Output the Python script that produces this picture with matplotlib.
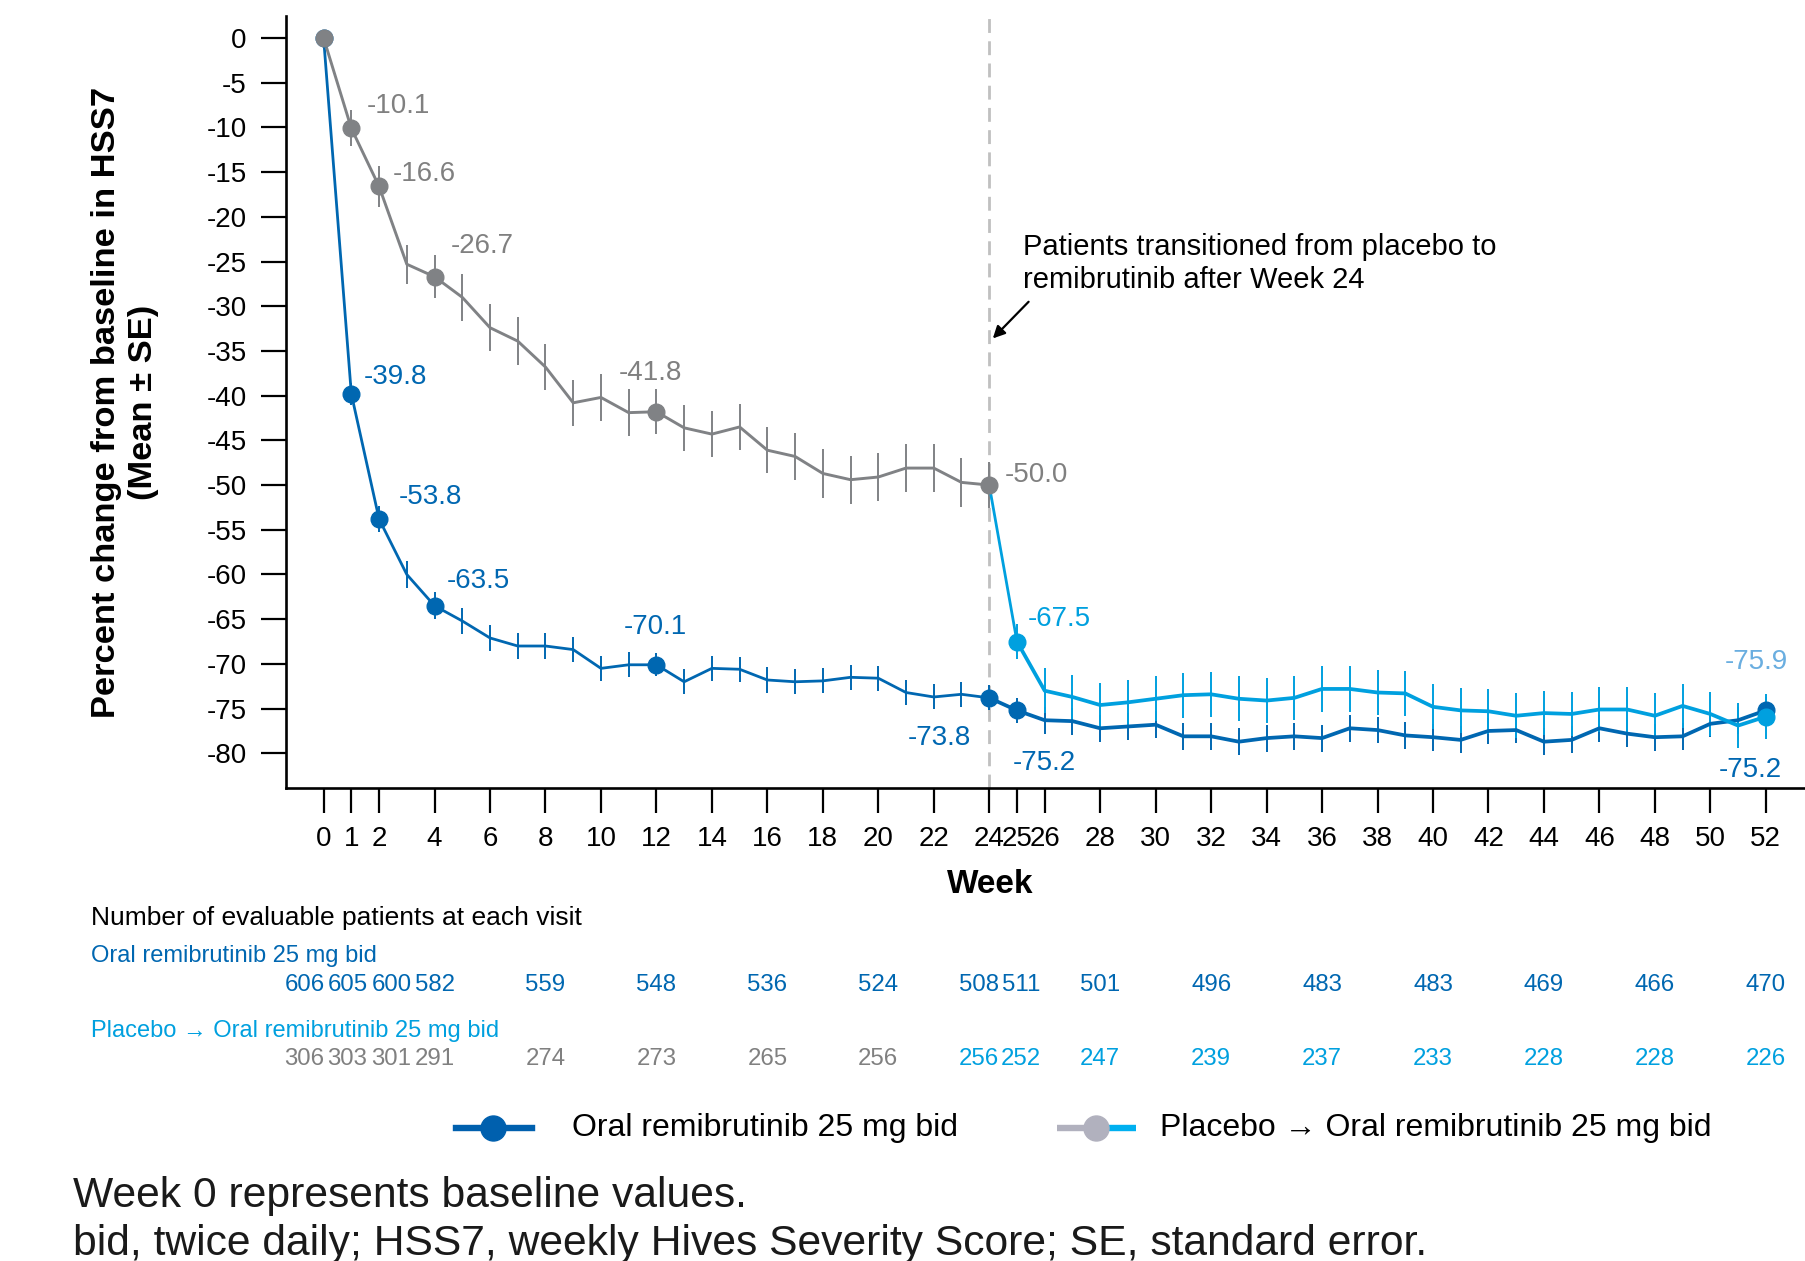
import matplotlib
matplotlib.use("Agg")
import matplotlib.pyplot as plt
import matplotlib.transforms as mtransforms
from matplotlib.lines import Line2D

plt.rcParams['font.family'] = ['Liberation Sans', 'DejaVu Sans']

# ---------------- data ----------------
weeks_main = list(range(0, 53))
remi_values = [0, -39.8, -53.8, -60.0, -63.5, -65.2, -67.1, -68.0, -68.0, -68.4,
               -70.5, -70.1, -70.1, -72.0, -70.5, -70.6, -71.8, -72.0, -71.9, -71.5,
               -71.6, -73.2, -73.7, -73.4, -73.8, -75.2, -76.3, -76.4, -77.2, -77.0,
               -76.8, -78.1, -78.1, -78.7, -78.3, -78.1, -78.3, -77.2, -77.4, -78.0,
               -78.2, -78.5, -77.5, -77.4, -78.7, -78.5, -77.2, -77.8, -78.2, -78.1,
               -76.7, -76.3, -75.2]
remi_se = [0, 1.2, 1.5, 1.5, 1.5, 1.5, 1.5, 1.4, 1.4, 1.4,
           1.4, 1.4, 1.3, 1.4, 1.4, 1.4, 1.4, 1.4, 1.4, 1.4,
           1.4, 1.4, 1.4, 1.4, 1.4, 1.4, 1.5, 1.5, 1.5, 1.5,
           1.5, 1.5, 1.5, 1.5, 1.5, 1.5, 1.5, 1.5, 1.5, 1.5,
           1.5, 1.5, 1.5, 1.5, 1.5, 1.5, 1.5, 1.5, 1.5, 1.5,
           1.5, 1.5, 1.5]

weeks_pbo = list(range(0, 25))
pbo_values = [0, -10.1, -16.6, -25.3, -26.7, -29.0, -32.4, -33.9, -36.8, -40.8,
              -40.2, -41.9, -41.8, -43.6, -44.3, -43.5, -46.1, -46.8, -48.7, -49.4,
              -49.1, -48.1, -48.1, -49.7, -50.0]
pbo_se = [0, 2.0, 2.3, 2.2, 2.4, 2.6, 2.6, 2.7, 2.6, 2.6,
          2.6, 2.6, 2.5, 2.6, 2.6, 2.6, 2.6, 2.6, 2.7, 2.7,
          2.7, 2.7, 2.7, 2.7, 2.6]

weeks_switch = list(range(24, 53))
switch_values = [-50.0, -67.5, -73.0, -73.7, -74.6, -74.3, -73.9, -73.5, -73.4, -73.9,
                 -74.1, -73.8, -72.8, -72.8, -73.2, -73.3, -74.8, -75.2, -75.3, -75.8,
                 -75.5, -75.6, -75.1, -75.1, -75.8, -74.7, -75.6, -76.9, -75.9]
switch_se = [0, 2.0, 2.5, 2.5, 2.5, 2.5, 2.5, 2.5, 2.5, 2.5,
             2.5, 2.5, 2.6, 2.6, 2.5, 2.5, 2.5, 2.5, 2.5, 2.5,
             2.5, 2.5, 2.5, 2.5, 2.5, 2.5, 2.5, 2.5, 2.5]

marker_weeks_remi = [0, 1, 2, 4, 12, 24, 25, 52]
marker_weeks_pbo = [0, 1, 2, 4, 12, 24]
marker_weeks_switch = [25, 52]

x_ticks = [0, 1, 2, 4, 6, 8, 10, 12, 14, 16, 18, 20, 22, 24, 25, 26, 28, 30, 32,
           34, 36, 38, 40, 42, 44, 46, 48, 50, 52]
y_ticks = [0, -5, -10, -15, -20, -25, -30, -35, -40, -45, -50, -55, -60, -65, -70, -75, -80]

risk_weeks = [0, 1, 2, 4, 8, 12, 16, 20, 24, 25, 28, 32, 36, 40, 44, 48, 52]
risk_remi = [606, 605, 600, 582, 559, 548, 536, 524, 508, 511, 501, 496, 483, 483, 469, 466, 470]
risk_pbo = [306, 303, 301, 291, 274, 273, 265, 256, 256, 252, 247, 239, 237, 233, 228, 228, 226]

# labelled points: (series, week, text)
point_labels = [
    ("pbo", 1, "-10.1"), ("pbo", 2, "-16.6"), ("pbo", 4, "-26.7"),
    ("pbo", 12, "-41.8"), ("pbo", 24, "-50.0"),
    ("remi", 1, "-39.8"), ("remi", 2, "-53.8"), ("remi", 4, "-63.5"),
    ("remi", 12, "-70.1"), ("remi", 24, "-73.8"), ("remi", 25, "-75.2"),
    ("remi", 52, "-75.2"),
    ("switch", 25, "-67.5"), ("switch", 52, "-75.9"),
]

# ---------------- style ----------------
C_REMI = "#0067B1"
C_PBO = "#808285"
C_SW = "#00A0DF"
C_SW_LBL = "#6AAEE0"
C_PBO_TXT = "#808080"

W, H = 1806, 1261
fig = plt.figure(figsize=(W / 100, H / 100), dpi=100)
ax_left, ax_right, ax_top, ax_bot = 285.6, 1806, 16, 788
ax = fig.add_axes([ax_left / W, 1 - ax_bot / H, (ax_right - ax_left) / W, (ax_bot - ax_top) / H])

ax.set_xlim(-1.37, 53.45)
ax.set_ylim(-83.88, 2.46)

# dashed vertical line
ax.axvline(24, color="#C0C0C0", lw=2.0, ls=(0, (5, 3)), zorder=1)

def idx(weeks, sel):
    return [weeks.index(w) for w in sel]

MS = 12

# remibrutinib: thinner to week 24 then thicker
n24 = weeks_main.index(24)
ax.errorbar(weeks_main[1:], remi_values[1:], yerr=remi_se[1:], fmt='none',
            ecolor=C_REMI, elinewidth=1.4, capsize=0, zorder=3)
ax.plot(weeks_main[:n24 + 1], remi_values[:n24 + 1], color=C_REMI, lw=2.0, zorder=4)
ax.plot(weeks_main[n24:], remi_values[n24:], color=C_REMI, lw=2.7, zorder=4)
mk = idx(weeks_main, marker_weeks_remi)
ax.plot([weeks_main[i] for i in mk], [remi_values[i] for i in mk], 'o',
        color=C_REMI, ms=MS, zorder=5)

# placebo
ax.errorbar(weeks_pbo[1:], pbo_values[1:], yerr=pbo_se[1:], fmt='none',
            ecolor=C_PBO, elinewidth=1.4, capsize=0, zorder=3)
ax.plot(weeks_pbo, pbo_values, color=C_PBO, lw=2.1, zorder=4)
mk = idx(weeks_pbo, marker_weeks_pbo)
ax.plot([weeks_pbo[i] for i in mk], [pbo_values[i] for i in mk], 'o',
        color=C_PBO, ms=MS, zorder=6)

# switch
ax.errorbar(weeks_switch[1:], switch_values[1:], yerr=switch_se[1:], fmt='none',
            ecolor=C_SW, elinewidth=1.4, capsize=0, zorder=3)
ax.plot(weeks_switch[:2], switch_values[:2], color=C_SW, lw=2.0, zorder=4)
ax.plot(weeks_switch[1:], switch_values[1:], color=C_SW, lw=2.7, zorder=4)
mk = idx(weeks_switch, marker_weeks_switch)
ax.plot([weeks_switch[i] for i in mk], [switch_values[i] for i in mk], 'o',
        color=C_SW, ms=MS, zorder=6)

# point labels (offsets in points, alignment)
label_style = {
    ("pbo", 1): ((11, 16), 'left', C_PBO_TXT),
    ("pbo", 2): ((10, 9), 'left', C_PBO_TXT),
    ("pbo", 4): ((12, 22), 'left', C_PBO_TXT),
    ("pbo", 12): ((-4, 28), 'center', C_PBO_TXT),
    ("pbo", 24): ((11, 7), 'left', C_PBO_TXT),
    ("remi", 1): ((9, 12), 'left', C_REMI),
    ("remi", 2): ((14, 16), 'left', C_REMI),
    ("remi", 4): ((9, 18), 'left', C_REMI),
    ("remi", 12): ((-1, 27), 'center', C_REMI),
    ("remi", 24): ((-13, -29), 'right', C_REMI),
    ("remi", 25): ((-3, -38), 'left', C_REMI),
    ("remi", 52): ((-11, -43), 'center', C_REMI),
    ("switch", 25): ((8, 16), 'left', C_SW),
    ("switch", 52): ((-7, 39), 'center', C_SW_LBL),
}
series = {"remi": (weeks_main, remi_values), "pbo": (weeks_pbo, pbo_values),
          "switch": (weeks_switch, switch_values)}
for s, wk, txt in point_labels:
    wl, vl = series[s]
    yv = vl[wl.index(wk)]
    (dx, dy), ha, col = label_style[(s, wk)]
    ax.annotate(txt, xy=(wk, yv), xytext=(dx, dy), textcoords='offset points',
                ha=ha, va='center', fontsize=20, color=col, zorder=7)

# annotation with arrow
ax.annotate("", xy=(24.13, -33.6), xytext=(25.42, -29.5),
            arrowprops=dict(arrowstyle="-|>", color="black", lw=1.6,
                            mutation_scale=18, shrinkA=0, shrinkB=0))
ax.text(25.21, -25.2, "Patients transitioned from placebo to\nremibrutinib after Week 24",
        ha='left', va='center', fontsize=21, linespacing=1.25, color="black")

# axes styling
for sp in ['top', 'right']:
    ax.spines[sp].set_visible(False)
for sp in ['left', 'bottom']:
    ax.spines[sp].set_linewidth(1.9)
ax.set_xticks(x_ticks)
ax.set_xticklabels([str(t) for t in x_ticks])
ax.set_yticks(y_ticks)
ax.set_yticklabels([str(t) for t in y_ticks])
ax.tick_params(axis='both', direction='out', length=18, width=1.6, labelsize=20,
               color='black')
ax.tick_params(axis='x', pad=9)
ax.tick_params(axis='y', pad=10)
ax.set_ylabel("Percent change from baseline in HSS7\n(Mean \u00b1 SE)", fontsize=24.8,
              fontweight='bold', linespacing=1.25)
ax.yaxis.set_label_coords((159 - ax_left) / (ax_right - ax_left), 0.5)

fig.text(990.6 / W, 1 - 884.6 / H, "Week", ha='center', va='center',
         fontsize=24, fontweight='bold')

# number at risk
fig.text(91 / W, 1 - 918 / H, "Number of evaluable patients at each visit",
         ha='left', va='center', fontsize=19, color='black')
fig.text(91 / W, 1 - 956 / H, "Oral remibrutinib 25 mg bid",
         ha='left', va='center', fontsize=17, color=C_REMI)
fig.text(91 / W, 1 - 1031 / H, "Placebo \u2192 Oral remibrutinib 25 mg bid",
         ha='left', va='center', fontsize=17, color=C_SW)

trans = mtransforms.blended_transform_factory(ax.transData, fig.transFigure)
nudge = {0: -13.7, 1: -2.8, 2: 8.9, 24: -7.2, 25: 3.1}
for wk, nr, npb in zip(risk_weeks, risk_remi, risk_pbo):
    dx = nudge.get(wk, 0)
    ax.annotate(str(nr), xy=(wk, 1 - 985 / H), xycoords=trans, xytext=(dx, 0),
                textcoords='offset points', ha='center', va='center',
                fontsize=17.3, color=C_REMI, annotation_clip=False)
    ax.annotate(str(npb), xy=(wk, 1 - 1059 / H), xycoords=trans, xytext=(dx, 0),
                textcoords='offset points', ha='center', va='center',
                fontsize=17.3, color=(C_SW if wk >= 24 else C_PBO_TXT),
                annotation_clip=False)

# legend (manual)
ly = 1 - 1127.6 / H
fig.add_artist(Line2D([456 / W, 532 / W], [ly, ly], color="#0060AE", lw=4.6,
                      transform=fig.transFigure))
fig.add_artist(Line2D([493 / W], [ly], marker='o', ms=18, color="#0060AE",
                      transform=fig.transFigure))
fig.text(572.5 / W, ly, "Oral remibrutinib 25 mg bid", ha='left', va='center',
         fontsize=23, color='black')
fig.add_artist(Line2D([1057 / W, 1096.5 / W], [ly, ly], color="#B1B1BE", lw=4.6,
                      solid_capstyle='butt', transform=fig.transFigure))
fig.add_artist(Line2D([1096.5 / W, 1135.7 / W], [ly, ly], color="#00B0F0", lw=4.6,
                      solid_capstyle='butt', transform=fig.transFigure))
fig.add_artist(Line2D([1096.5 / W], [ly], marker='o', ms=18, color="#B1B1BE",
                      transform=fig.transFigure))
fig.text(1160 / W, ly, "Placebo \u2192 Oral remibrutinib 25 mg bid", ha='left',
         va='center', fontsize=23, color='black')

# footnotes
fig.text(72.6 / W, 1 - 1207 / H, "Week 0 represents baseline values.",
         ha='left', va='baseline', fontsize=30.7, color='#1a1a1a')
fig.text(72.6 / W, 1 - 1255 / H,
         "bid, twice daily; HSS7, weekly Hives Severity Score; SE, standard error.",
         ha='left', va='baseline', fontsize=30.7, color='#1a1a1a')

fig.savefig("out.png", dpi=100)
